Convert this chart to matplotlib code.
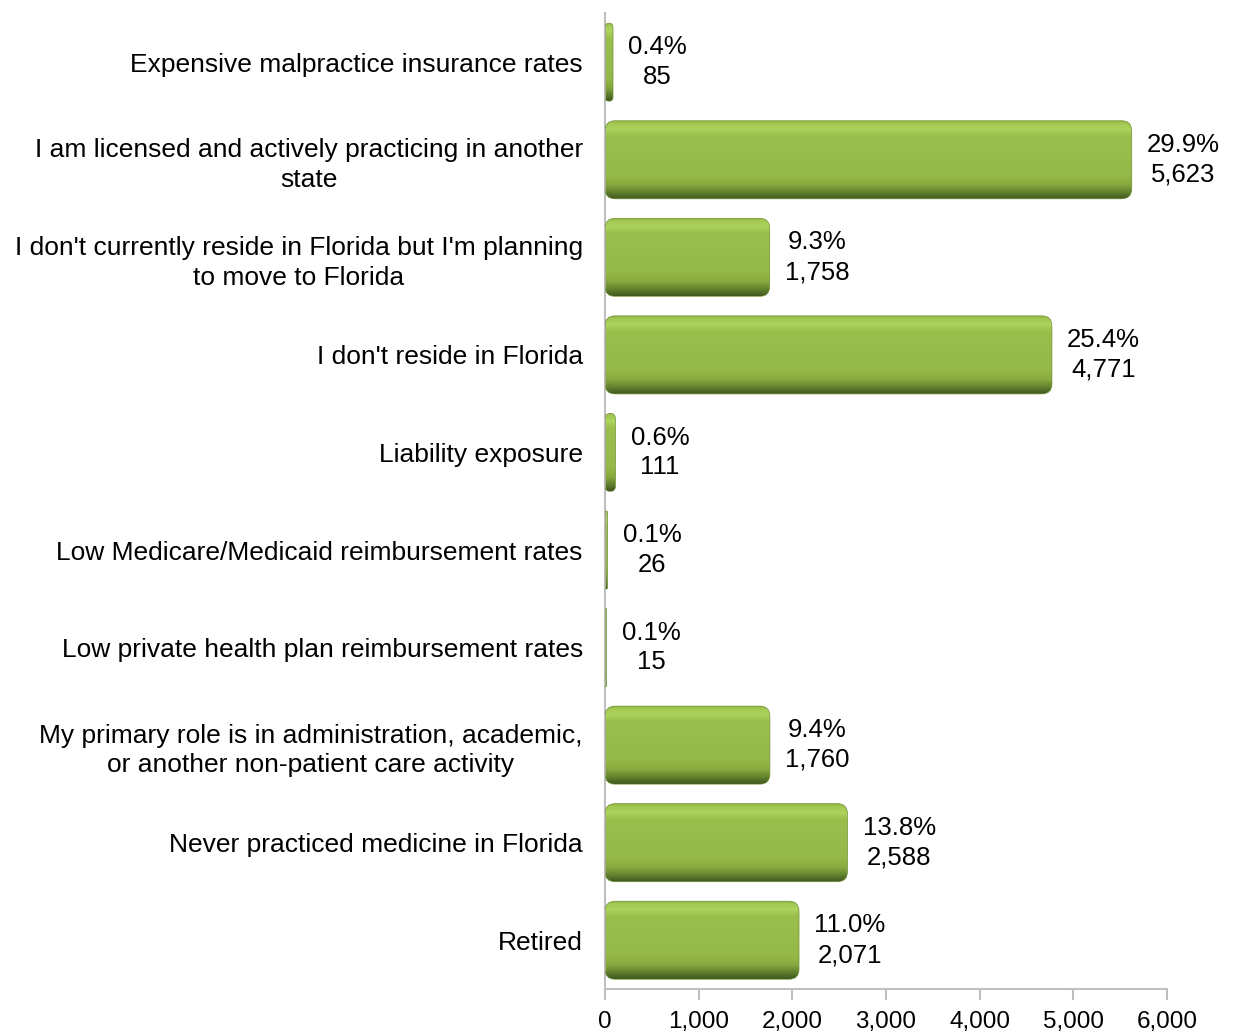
import matplotlib
matplotlib.use("Agg")
import matplotlib.pyplot as plt
import numpy as np
from matplotlib.patches import FancyBboxPatch
from matplotlib.colors import LinearSegmentedColormap

plt.rcParams["font.family"] = ["Liberation Sans", "DejaVu Sans"]

categories = [
    "Expensive malpractice insurance rates",
    "I am licensed and actively practicing in another\nstate",
    "I don't currently reside in Florida but I'm planning\nto move to Florida",
    "I don't reside in Florida",
    "Liability exposure",
    "Low Medicare/Medicaid reimbursement rates",
    "Low private health plan reimbursement rates",
    "My primary role is in administration, academic,\nor another non-patient care activity",
    "Never practiced medicine in Florida",
    "Retired",
]
counts = [85, 5623, 1758, 4771, 111, 26, 15, 1760, 2588, 2071]
percents = ["0.4%", "29.9%", "9.3%", "25.4%", "0.6%", "0.1%", "0.1%", "9.4%", "13.8%", "11.0%"]
xticks = [0, 1000, 2000, 3000, 4000, 5000, 6000]

FS = 19
LS = 1.3

fig = plt.figure(figsize=(12.33, 10.34), dpi=100)
ax = fig.add_axes([0.4907, 0.0435, 0.4558, 0.9435])

y = np.arange(len(categories))
bars = ax.barh(y, counts, height=0.8, color="none", edgecolor="none")

ax.set_xlim(0, 6000)
ax.set_ylim(len(categories) - 0.5, -0.5)

# vertical gradient for the glossy bars: thin edge, light band, body, dark bottom
grad_cmap = LinearSegmentedColormap.from_list(
    "bar", [(0.0, "#8db23e"), (0.05, "#a4ca55"), (0.12, "#acd35c"),
            (0.2, "#9bbf4d"), (0.7, "#95b948"), (0.82, "#87a93e"),
            (0.92, "#5f7f2c"), (1.0, "#3f5620")])
grad = np.linspace(0, 1, 256).reshape(-1, 1)

# corner radius in x data units and aspect to get round corners in pixels
fig.canvas.draw()
bbox = ax.get_window_extent()
px_per_x = bbox.width / 6000
px_per_y = bbox.height / len(categories)
aspect = px_per_x / px_per_y

for rect, pct, cnt in zip(bars, percents, counts):
    x0, y0 = rect.get_x(), rect.get_y()
    w, h = rect.get_width(), rect.get_height()
    r = min(10 / px_per_x, w / 2)
    patch = FancyBboxPatch((x0, y0), w, h,
                           boxstyle=f"round,pad=0,rounding_size={r}",
                           mutation_aspect=aspect,
                           facecolor="none", edgecolor="#6f8f34", linewidth=0.5,
                           zorder=3)
    ax.add_patch(patch)
    im = ax.imshow(grad, cmap=grad_cmap, aspect="auto",
                   extent=[x0, x0 + w, y0 + h, y0], zorder=2,
                   interpolation="bilinear")
    im.set_clip_path(patch)
    ax.annotate(f"{pct}\n{cnt:,}", xy=(x0 + w, y0 + h / 2),
                xytext=(11, 0), textcoords="offset points",
                ha="left", va="center", multialignment="center",
                fontsize=FS - 0.5, linespacing=LS, color="#000000")

ax.set_ylim(len(categories) - 0.5, -0.5)
ax.set_xlim(0, 6000)

ax.set_yticks(y)
ax.set_yticklabels(categories, fontsize=FS, linespacing=LS)
for lbl in ax.get_yticklabels():
    lbl.set_multialignment("center")
ax.set_xticks(xticks)
ax.set_xticklabels([f"{v:,}" for v in xticks], fontsize=17.5)

for s in ["top", "right"]:
    ax.spines[s].set_visible(False)
for s in ["left", "bottom"]:
    ax.spines[s].set_color("#bfbfbf")
    ax.spines[s].set_linewidth(1.5)

ax.tick_params(axis="y", length=0, pad=16)
ax.tick_params(axis="x", length=8, width=1.5, color="#bfbfbf", direction="out", pad=8)

fig.savefig("out.png", dpi=100)
